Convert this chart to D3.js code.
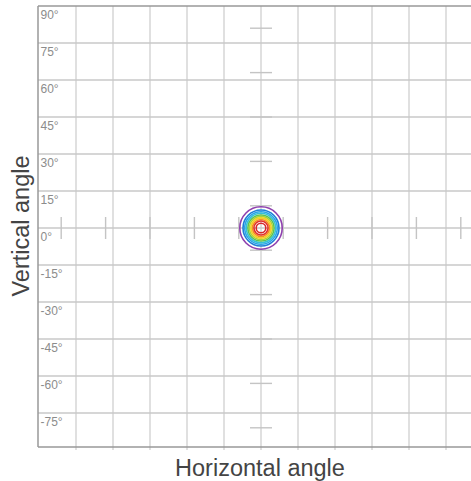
<!DOCTYPE html>
<html><head><meta charset="utf-8">
<script src="https://cdn.jsdelivr.net/npm/d3@7"></script>
<style>body{margin:0;background:#fff}svg{display:block}</style>
</head><body>
<svg id="c" width="471" height="481"></svg>
<script>
// Data
const gridAngles = [-75,-60,-45,-30,-15,0,15,30,45,60,75,90];
const yLabels = ["90°","75°","60°","45°","30°","15°","0°","-15°","-30°","-45°","-60°","-75°"];
const yLabelValues = [90,75,60,45,30,15,0,-15,-30,-45,-60,-75];
const xGrid = [-75,-60,-45,-30,-15,0,15,30,45,60,75,90];
const markAngles = [-81,-63,-45,-27,-9,9,27,45,63,81];
const ringRadii = [8.6, 7.3, 6.6, 5.95, 5.3, 4.7, 4.1, 3.45, 2.85, 1.95];
const ringColors = ["#8e3fae","#1e7fd6","#2aa3e8","#35c0d8","#58c25a","#a8d43a","#f5d023","#f5921e","#e2302d","#d8282a"];

(function(){
const svg = d3.select("#c");
const x = d3.scaleLinear().domain([-90,90]).range([39,483]);
const y = d3.scaleLinear().domain([90,-90]).range([6,450]);
const pTop = 6, pBottom = 447, pLeft = 38;

// vertical grid
svg.append("g").selectAll("line").data(xGrid).join("line")
  .attr("x1",d=>x(d)).attr("x2",d=>x(d)).attr("y1",pTop).attr("y2",450)
  .attr("stroke","#d9d9d9").attr("stroke-width",1.6);
// horizontal grid
svg.append("g").selectAll("line").data(gridAngles.filter(d=>d<90)).join("line")
  .attr("x1",pLeft).attr("x2",471).attr("y1",d=>y(d)).attr("y2",d=>y(d))
  .attr("stroke","#c8c8c8").attr("stroke-width",1.3);

// borders
svg.append("line").attr("x1",pLeft).attr("x2",471).attr("y1",pTop).attr("y2",pTop).attr("stroke","#999").attr("stroke-width",1.5);
svg.append("line").attr("x1",pLeft).attr("x2",471).attr("y1",pBottom).attr("y2",pBottom).attr("stroke","#999").attr("stroke-width",1.3);
svg.append("line").attr("x1",pLeft).attr("x2",pLeft).attr("y1",pTop).attr("y2",pBottom).attr("stroke","#999").attr("stroke-width",1.5);

// tick marks along axes
svg.append("g").selectAll("line").data(markAngles).join("line")
  .attr("x1",d=>x(d)).attr("x2",d=>x(d)).attr("y1",y(0)-11).attr("y2",y(0)+11)
  .attr("stroke","#c4c4c4").attr("stroke-width",1.4);
svg.append("g").selectAll("line").data(markAngles).join("line")
  .attr("y1",d=>y(d)).attr("y2",d=>y(d)).attr("x1",x(0)-11).attr("x2",x(0)+11)
  .attr("stroke","#c4c4c4").attr("stroke-width",1.4);

// rings
svg.append("g").selectAll("circle").data(ringRadii).join("circle")
  .attr("cx",x(0)).attr("cy",y(0)).attr("r",d=>x(d)-x(0))
  .attr("fill","none").attr("stroke",(d,i)=>ringColors[i]).attr("stroke-width",1.6);

// y labels
svg.append("g").selectAll("text").data(yLabelValues).join("text")
  .attr("x",40.5).attr("y",d=>y(d)+13)
  .attr("font-family","Liberation Sans, Arial, sans-serif").attr("font-size",12)
  .attr("fill","#8c8c8c").text((d,i)=>yLabels[i]);

// axis titles
svg.append("text").attr("x",260).attr("y",476).attr("text-anchor","middle")
  .attr("font-family","Liberation Sans, Arial, sans-serif").attr("font-size",23.5)
  .attr("fill","#444").text("Horizontal angle");
svg.append("text").attr("transform","translate(29,226) rotate(-90)").attr("text-anchor","middle")
  .attr("font-family","Liberation Sans, Arial, sans-serif").attr("font-size",23.5)
  .attr("fill","#444").text("Vertical angle");
})();
</script>
</body></html>
